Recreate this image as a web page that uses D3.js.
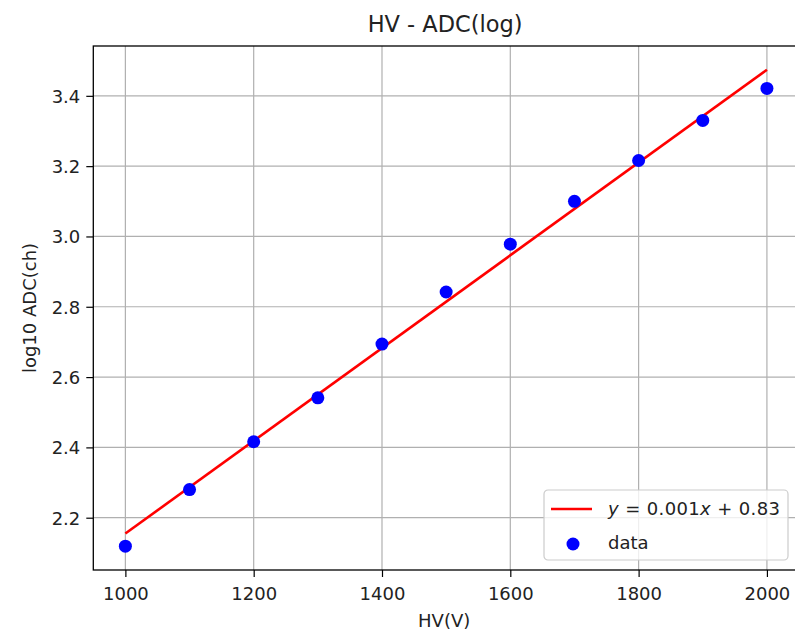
<!DOCTYPE html>
<html>
<head>
<meta charset="utf-8">
<script src="https://cdn.jsdelivr.net/npm/d3@7"></script>
<style>
  html, body { margin: 0; padding: 0; background: #fff; }
  svg { display: block; font-family: "DejaVu Sans", sans-serif; }
</style>
</head>
<body>
<svg id="chart" width="795" height="632"></svg>
<script>
// ---- data ----
const hv = [1000, 1100, 1200, 1300, 1400, 1500, 1600, 1700, 1800, 1900, 2000];
const logAdc = [2.119, 2.280, 2.416, 2.541, 2.694, 2.842, 2.978, 3.100, 3.216, 3.330, 3.421];
const fitX = [1000, 2000];
const fitY = [2.155, 3.474];
const xTicks = [1000, 1200, 1400, 1600, 1800, 2000];
const yTicks = [2.2, 2.4, 2.6, 2.8, 3.0, 3.2, 3.4];
const titleText = "HV - ADC(log)";
const xLabel = "HV(V)";
const yLabel = "log10 ADC(ch)";

// ---- layout ----
const W = 795, H = 632;
const m = { left: 93.3, right: 799, top: 46, bottom: 570 };
const svg = d3.select("#chart");

function padded(arr) {
  const lo = d3.min(arr), hi = d3.max(arr), p = (hi - lo) * 0.05;
  return [lo - p, hi + p];
}
const x = d3.scaleLinear().domain(padded(hv.concat(fitX))).range([m.left, m.right]);
const y = d3.scaleLinear().domain(padded(logAdc.concat(fitY))).range([m.bottom, m.top]);

// grid
const grid = svg.append("g");
grid.selectAll(".gx").data(xTicks).enter().append("line")
  .attr("x1", d => x(d)).attr("x2", d => x(d))
  .attr("y1", m.top).attr("y2", m.bottom)
  .attr("stroke", "#b0b0b0").attr("stroke-width", 1.2);
grid.selectAll(".gy").data(yTicks).enter().append("line")
  .attr("y1", d => y(d)).attr("y2", d => y(d))
  .attr("x1", m.left).attr("x2", m.right)
  .attr("stroke", "#b0b0b0").attr("stroke-width", 1.2);

// axes
const xAxis = d3.axisBottom(x).tickValues(xTicks).tickSize(7).tickPadding(6).tickFormat(d3.format("d"));
const yAxis = d3.axisLeft(y).tickValues(yTicks).tickSize(7).tickPadding(6).tickFormat(d3.format(".1f"));
const gx = svg.append("g").attr("transform", `translate(0,${m.bottom})`).call(xAxis);
const gy = svg.append("g").attr("transform", `translate(${m.left},0)`).call(yAxis);
[gx, gy].forEach(g => {
  g.select(".domain").remove();
  g.selectAll(".tick line").attr("stroke", "#000").attr("stroke-width", 1.2);
  g.selectAll(".tick text").attr("fill", "#222").style("font-size", "18px").style("font-family", "DejaVu Sans");
});
gx.selectAll(".tick text").attr("dy", "0.95em");
gy.selectAll(".tick text").attr("dy", "0.35em");

// fit line
svg.append("path")
  .datum(fitX.map((d, i) => [d, fitY[i]]))
  .attr("d", d3.line().x(d => x(d[0])).y(d => y(d[1])))
  .attr("fill", "none").attr("stroke", "#ff0000").attr("stroke-width", 2.6);

// data points
svg.append("g").selectAll("circle").data(hv).enter().append("circle")
  .attr("cx", d => x(d)).attr("cy", (d, i) => y(logAdc[i]))
  .attr("r", 6.5).attr("fill", "#0000ff");

// frame
svg.append("rect")
  .attr("x", m.left).attr("y", m.top)
  .attr("width", m.right - m.left).attr("height", m.bottom - m.top)
  .attr("fill", "none").attr("stroke", "#000").attr("stroke-width", 1.3);

// title & labels
svg.append("text").attr("x", (m.left + m.right) / 2 - 1).attr("y", 32)
  .attr("text-anchor", "middle").style("font-size", "22.5px").attr("fill", "#222").text(titleText);
svg.append("text").attr("x", (m.left + m.right) / 2 - 2).attr("y", 627)
  .attr("text-anchor", "middle").style("font-size", "18px").attr("fill", "#222").text(xLabel);
svg.append("text").attr("transform", `translate(36,${(m.top + m.bottom) / 2}) rotate(-90)`)
  .attr("text-anchor", "middle").style("font-size", "18px").attr("fill", "#222").text(yLabel);

// legend
const lg = svg.append("g").attr("transform", "translate(544,490)");
lg.append("rect").attr("x", 0).attr("y", 0).attr("width", 244).attr("height", 70)
  .attr("rx", 4).attr("fill", "#fff").attr("fill-opacity", 0.8)
  .attr("stroke", "#cccccc").attr("stroke-width", 1.2);
lg.append("line").attr("x1", 7).attr("x2", 48).attr("y1", 19).attr("y2", 19)
  .attr("stroke", "#ff0000").attr("stroke-width", 2.6);
const t1 = lg.append("text").attr("x", 64).attr("y", 25).style("font-size", "18px").attr("fill", "#222")
  .attr("textLength", 172).attr("lengthAdjust", "spacing");
t1.append("tspan").style("font-style", "italic").text("y");
t1.append("tspan").text(" = 0.001");
t1.append("tspan").style("font-style", "italic").text("x");
t1.append("tspan").text(" + 0.83");
lg.append("circle").attr("cx", 29).attr("cy", 54).attr("r", 6.5).attr("fill", "#0000ff");
lg.append("text").attr("x", 64).attr("y", 59).style("font-size", "18px").attr("fill", "#222").text("data");
</script>
</body>
</html>
